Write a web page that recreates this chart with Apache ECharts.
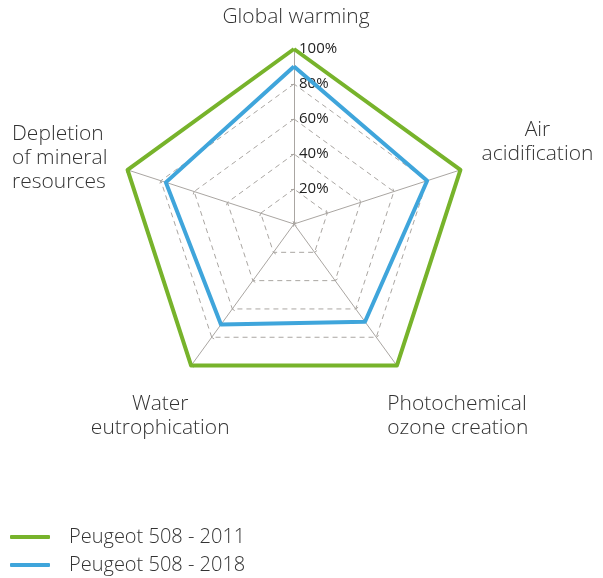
<!DOCTYPE html>
<html>
<head>
<meta charset="utf-8">
<script src="https://cdn.jsdelivr.net/npm/echarts@6/dist/echarts.min.js"></script>
<style>
  html, body { margin: 0; padding: 0; background: #fff; }
  #chart { width: 603px; height: 578px; }
</style>
</head>
<body>
<div id="chart"></div>
<script>
// indicators, counter-clockwise from the top
var indicatorNames = [
	"Global warming",
	"Depletion of mineral resources",
	"Water eutrophication",
	"Photochemical ozone creation",
	"Air acidification",
];
var seriesNames = ["Peugeot 508 - 2011", "Peugeot 508 - 2018"];
var values2011 = [100, 100, 100, 100, 100];
var values2018 = [90, 77, 71, 69, 80];
var tickLabels = ["20%", "40%", "60%", "80%", "100%"];

var GREEN = "#77b32b";
var BLUE = "#3fa5db";
var GRID = "#aaa6a2";
var TEXT = "#333333";

// label placement per indicator (gap from the rim + padding nudge)
var nameLayout = {
	"Global warming": { gap: 32, pad: [0, 0, 0, 4], fmt: "{c|Global warming}" },
	"Depletion of mineral resources": {
		gap: 71,
		pad: [21, 0, 0, 0],
		fmt: "{d|Depletion}\n{d|of mineral}\n{d|resources}",
	},
	"Water eutrophication": {
		gap: 62,
		pad: [0, 0, 0, 11],
		fmt: "{c|Water}\n{c|eutrophication}",
	},
	"Photochemical ozone creation": {
		gap: 62,
		pad: [0, 0, 0, 52],
		fmt: "{p|Photochemical}\n{p|ozone creation}",
	},
	"Air acidification": { gap: 81, pad: [0, 0, 5, 0], fmt: "{c|Air}\n{c|acidification}" },
};

var chartDom = document.getElementById("chart");
var myChart = echarts.init(chartDom, null, { renderer: "canvas" });

var indicators = indicatorNames.map(function (name, i) {
	var lay = nameLayout[name];
	return {
		name: name,
		min: 0,
		max: 100,
		nameGap: lay.gap,
		nameTextStyle: {
			align: "center",
			verticalAlign: "middle",
			padding: lay.pad,
		},
		// only the vertical axis carries the percentage labels, right of the line
		axisLabel: i === 0 ? { show: true, align: "left", margin: -5 } : { show: false },
	};
});

var nameFont = { fontFamily: "Open Sans", fontSize: 21, fontWeight: 300, color: TEXT, lineHeight: 24 };

var option = {
	animation: false,
	backgroundColor: "#fff",
	legend: {
		orient: "vertical",
		left: 10,
		top: 526,
		padding: 0,
		itemWidth: 40,
		itemHeight: 4,
		itemGap: 6,
		icon: "roundRect",
		textStyle: {
			fontFamily: "Open Sans",
			fontSize: 20,
			fontWeight: 300,
			color: TEXT,
			lineHeight: 22,
			padding: [0, 0, 0, 14],
		},
		data: seriesNames,
	},
	radar: {
		center: [294, 224],
		radius: 175,
		startAngle: 90,
		shape: "polygon",
		splitNumber: 5,
		indicator: indicators,
		axisName: {
			formatter: function (name) {
				return nameLayout[name].fmt;
			},
			rich: {
				c: nameFont,
				d: Object.assign({ width: 96, align: "left" }, nameFont),
				p: Object.assign({ width: 144, align: "left" }, nameFont),
			},
		},
		axisLine: { lineStyle: { color: GRID, width: 1 } },
		axisTick: { show: true, length: 3, lineStyle: { color: GRID } },
		splitLine: {
			lineStyle: { color: GRID, width: 1, type: [5, 4] },
		},
		splitArea: { show: false },
		axisLabel: {
			show: true,
			showMinLabel: false,
			fontFamily: "Open Sans",
			fontSize: 15,
			color: "#222",
			formatter: function (v) {
				var idx = Math.round(v / 20) - 1;
				return tickLabels[idx] || "";
			},
		},
	},
	series: [
		{
			type: "radar",
			symbol: "none",
			data: [
				{
					name: seriesNames[0],
					value: values2011,
					lineStyle: { color: GREEN, width: 4 },
					itemStyle: { color: GREEN },
				},
				{
					name: seriesNames[1],
					value: values2018,
					lineStyle: { color: BLUE, width: 4 },
					itemStyle: { color: BLUE },
				},
			],
		},
	],
};

myChart.setOption(option);

window.addEventListener("resize", function () {
	myChart.resize();
});
</script>
</body>
</html>
